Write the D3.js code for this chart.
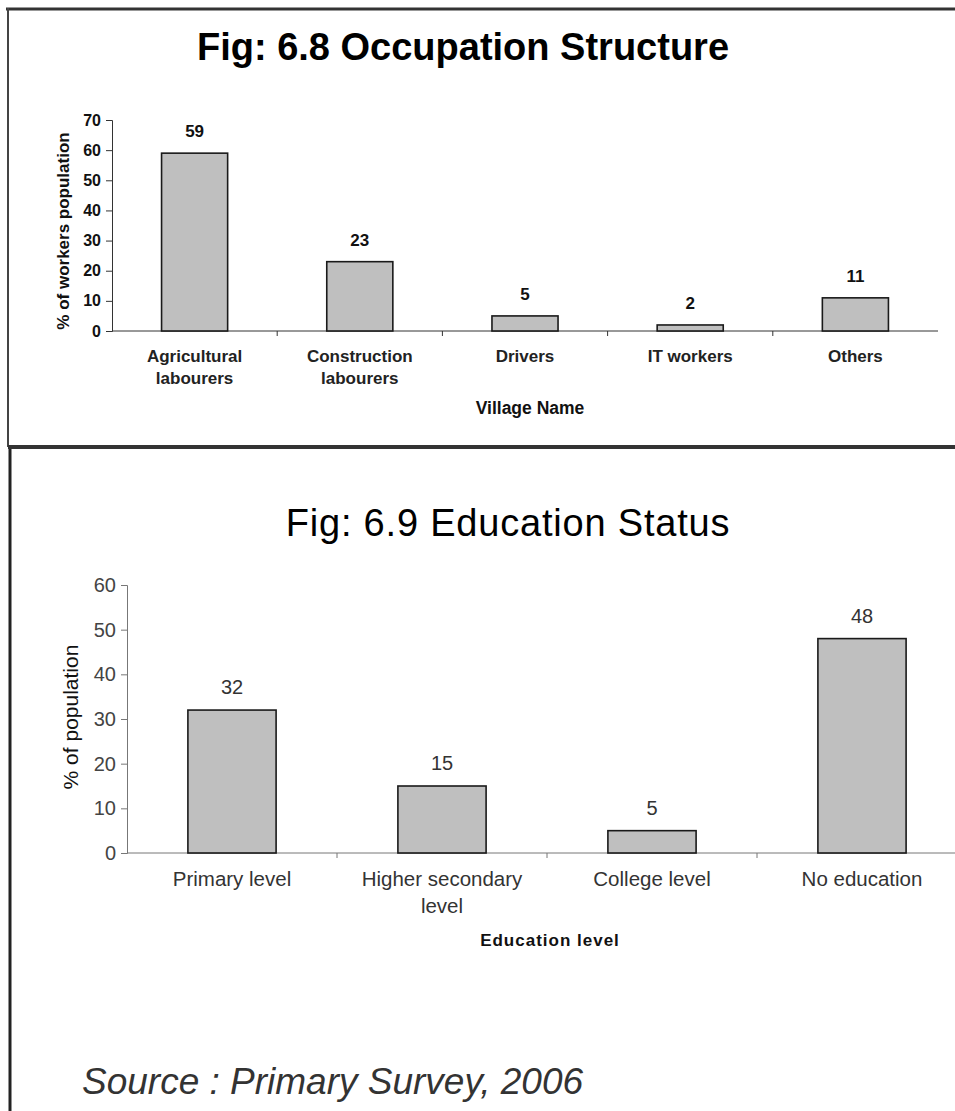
<!DOCTYPE html>
<html>
<head>
<meta charset="utf-8">
<script src="https://cdn.jsdelivr.net/npm/d3@7"></script>
<style>
  body { margin: 0; background: #fff; }
  svg { display: block; }
</style>
</head>
<body>
<div id="chart"></div>
<script>
// Fig 6.8 data
const occCategories = [["Agricultural", "labourers"], ["Construction", "labourers"], ["Drivers"], ["IT workers"], ["Others"]];
const occValues = [59, 23, 5, 2, 11];
const occTicks = [0, 10, 20, 30, 40, 50, 60, 70];

// Fig 6.9 data
const eduCategories = [["Primary level"], ["Higher secondary", "level"], ["College level"], ["No education"]];
const eduValues = [32, 15, 5, 48];
const eduTicks = [0, 10, 20, 30, 40, 50, 60];

const W = 955, H = 1111;
const font = "'Liberation Sans', Arial, sans-serif";

const svg = d3.select("#chart").append("svg")
  .attr("width", W)
  .attr("height", H);

svg.append("rect").attr("width", W).attr("height", H).attr("fill", "#fff");

// page frame lines
svg.append("line").attr("x1", 6).attr("x2", W).attr("y1", 9).attr("y2", 9)
  .attr("stroke", "#333").attr("stroke-width", 3);
svg.append("line").attr("x1", 8).attr("x2", 8).attr("y1", 8).attr("y2", 447)
  .attr("stroke", "#444").attr("stroke-width", 2);
svg.append("line").attr("x1", 10).attr("x2", 10).attr("y1", 447).attr("y2", H)
  .attr("stroke", "#222").attr("stroke-width", 3);
svg.append("line").attr("x1", 8).attr("x2", W).attr("y1", 447).attr("y2", 447)
  .attr("stroke", "#333").attr("stroke-width", 4);

function drawChart(cfg) {
  const keys = cfg.cats.map(c => c.join(" "));
  const x = d3.scaleBand().domain(keys)
    .range(cfg.xRange).paddingInner(cfg.pad).paddingOuter(cfg.pad / 2);
  const y = d3.scaleLinear().domain(cfg.yDomain).range(cfg.yRange);
  const base = y(0);

  // y axis
  const yAxis = svg.append("g")
    .attr("transform", `translate(${cfg.xRange[0]},0)`)
    .call(d3.axisLeft(y).tickValues(cfg.ticks).tickSize(6).tickPadding(5));
  yAxis.selectAll("path, line").attr("stroke", cfg.axisColor);
  yAxis.selectAll("text")
    .style("font-family", font)
    .style("font-size", cfg.tickSize + "px")
    .style("font-weight", cfg.tickWeight)
    .attr("fill", cfg.tickColor);

  // x axis line, ticks sit between the categories
  svg.append("line")
    .attr("x1", cfg.xRange[0]).attr("x2", cfg.xRange[1])
    .attr("y1", base).attr("y2", base)
    .attr("stroke", cfg.axisColor);
  const step = x.step();
  d3.range(1, keys.length).forEach(i => {
    const bx = cfg.xRange[0] + i * step;
    svg.append("line").attr("x1", bx).attr("x2", bx)
      .attr("y1", base).attr("y2", base + 5)
      .attr("stroke", cfg.axisColor);
  });

  // bars
  svg.selectAll(null).data(cfg.values).enter().append("rect")
    .attr("x", (d, i) => x(keys[i]))
    .attr("y", d => y(d))
    .attr("width", x.bandwidth())
    .attr("height", d => base - y(d))
    .attr("fill", "#bfbfbf")
    .attr("stroke", "#1a1a1a")
    .attr("stroke-width", 1.6);

  // value labels
  svg.selectAll(null).data(cfg.values).enter().append("text")
    .attr("x", (d, i) => x(keys[i]) + x.bandwidth() / 2)
    .attr("y", d => y(d) - 16)
    .attr("text-anchor", "middle")
    .style("font-family", font)
    .style("font-size", cfg.valSize + "px")
    .style("font-weight", cfg.valWeight)
    .attr("fill", cfg.valColor)
    .text(d => d);

  // category labels
  cfg.cats.forEach((lines, i) => {
    const t = svg.append("text")
      .attr("x", x(keys[i]) + x.bandwidth() / 2)
      .attr("y", cfg.catY)
      .attr("text-anchor", "middle")
      .style("font-family", font)
      .style("font-size", cfg.catSize + "px")
      .style("font-weight", cfg.catWeight)
      .attr("fill", cfg.catColor);
    lines.forEach((l, j) => {
      t.append("tspan").attr("x", x(keys[i]) + x.bandwidth() / 2)
        .attr("dy", j === 0 ? 0 : cfg.lineGap).text(l);
    });
  });

  // axis titles
  svg.append("text")
    .attr("x", cfg.xTitlePos[0]).attr("y", cfg.xTitlePos[1])
    .attr("text-anchor", "middle")
    .style("font-family", font)
    .style("font-size", cfg.xTitleSize + "px")
    .style("font-weight", "bold")
    .style("letter-spacing", cfg.xTitleSpacing + "px")
    .attr("fill", "#111")
    .text(cfg.xTitle);

  svg.append("text")
    .attr("transform", `translate(${cfg.yTitlePos[0]},${cfg.yTitlePos[1]}) rotate(-90)`)
    .attr("text-anchor", "middle")
    .style("font-family", font)
    .style("font-size", cfg.yTitleSize + "px")
    .style("font-weight", cfg.yTitleWeight)
    .attr("fill", "#111")
    .text(cfg.yTitle);

  svg.append("text")
    .attr("x", cfg.titlePos[0]).attr("y", cfg.titlePos[1])
    .attr("text-anchor", "middle")
    .style("font-family", font)
    .style("font-size", cfg.titleSize + "px")
    .style("font-weight", cfg.titleWeight)
    .style("letter-spacing", cfg.titleSpacing + "px")
    .attr("fill", "#000")
    .text(cfg.title);
}

drawChart({
  cats: occCategories, values: occValues, ticks: occTicks,
  xRange: [112, 938], pad: 0.6,
  yDomain: [0, 70], yRange: [331, 120],
  axisColor: "#333", tickSize: 16, tickWeight: "bold", tickColor: "#111",
  valSize: 17, valWeight: "bold", valColor: "#111",
  catY: 362, lineGap: 22, catSize: 17, catWeight: "bold", catColor: "#222",
  xTitle: "Village Name", xTitlePos: [530, 414], xTitleSize: 17.5, xTitleSpacing: 0,
  yTitle: "% of workers population", yTitlePos: [69, 231], yTitleSize: 17, yTitleWeight: "bold",
  title: "Fig: 6.8 Occupation Structure", titlePos: [463, 60], titleSize: 38, titleWeight: "bold", titleSpacing: 0
});

drawChart({
  cats: eduCategories, values: eduValues, ticks: eduTicks,
  xRange: [127, 967], pad: 0.58,
  yDomain: [0, 60], yRange: [853, 585],
  axisColor: "#777", tickSize: 20, tickWeight: "normal", tickColor: "#444",
  valSize: 20, valWeight: "normal", valColor: "#333",
  catY: 886, lineGap: 27, catSize: 20.5, catWeight: "normal", catColor: "#333",
  xTitle: "Education level", xTitlePos: [550, 946], xTitleSize: 17, xTitleSpacing: 1,
  yTitle: "% of population", yTitlePos: [78, 717], yTitleSize: 21, yTitleWeight: "normal",
  title: "Fig: 6.9 Education Status", titlePos: [508, 536], titleSize: 38, titleWeight: "normal", titleSpacing: 0.8
});

// source note
svg.append("text")
  .attr("x", 82).attr("y", 1094)
  .style("font-family", font)
  .style("font-size", "37px")
  .style("font-style", "italic")
  .attr("fill", "#333")
  .text("Source : Primary Survey, 2006");
</script>
</body>
</html>
